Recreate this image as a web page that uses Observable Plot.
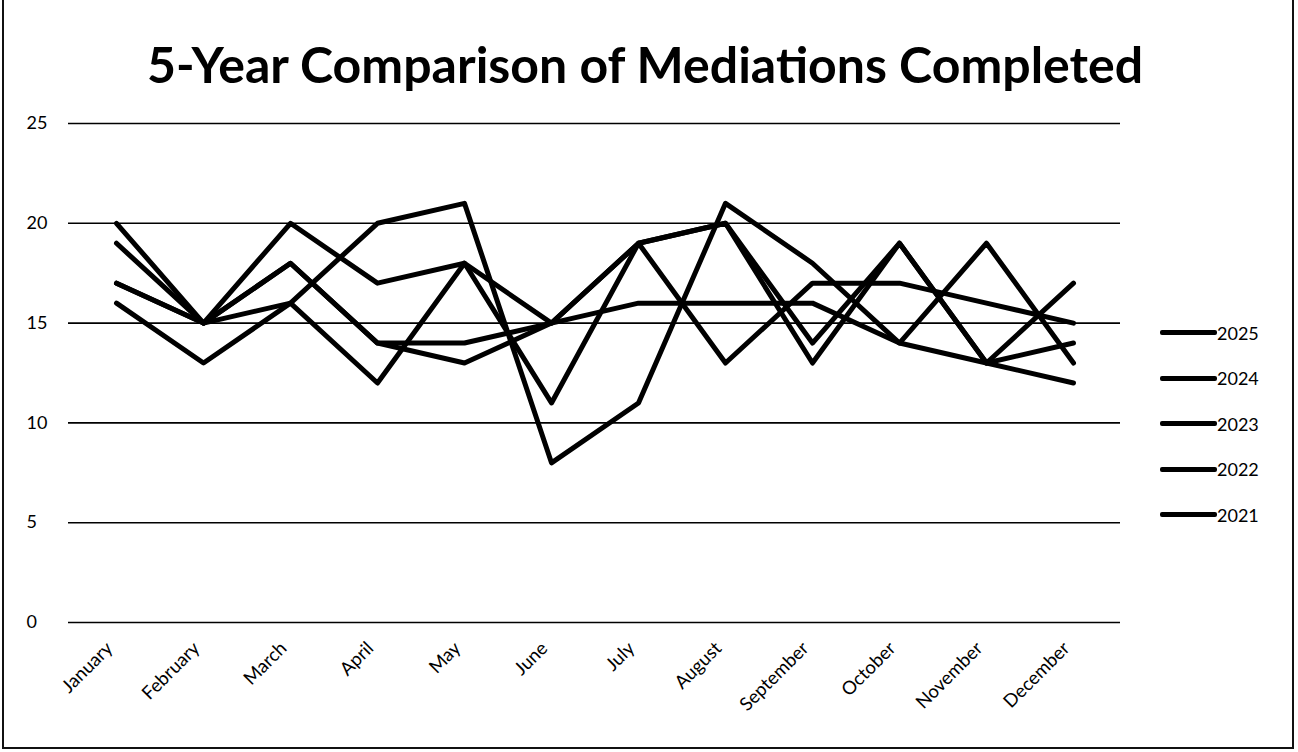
<!DOCTYPE html>
<html>
<head>
<meta charset="utf-8">
<script src="https://cdn.jsdelivr.net/npm/d3@7"></script>
<script src="https://cdn.jsdelivr.net/npm/@observablehq/plot@0.6"></script>
<style>
  html, body { margin: 0; padding: 0; background: #fff; }
  #wrap { position: relative; width: 1298px; height: 752px; overflow: hidden; font-family: Lato, "Open Sans", sans-serif; }
  #frame { position: absolute; left: 2px; top: -4px; width: 1292px; height: 753px; border: 2px solid #111; box-sizing: border-box; pointer-events: none; }
  #title { position: absolute; left: -4px; width: 1298px; top: 34px; text-align: center; font-size: 50px; font-weight: 700; color: #000; }
  #chart { position: absolute; left: 0; top: 0; }
  #legend { position: absolute; left: 1160px; top: 310px; }
  .li { display: flex; align-items: center; height: 45.5px; font-size: 18px; color: #000; }
  .sw { width: 57px; height: 5px; background: #000; border-radius: 2px; }
</style>
</head>
<body>
<div id="wrap">
  <div id="chart"></div>
  <div id="title">5-Year Comparison of Mediations Completed</div>
  <div id="legend"></div>
  <div id="frame"></div>
</div>
<script>
const months = ["January","February","March","April","May","June","July","August","September","October","November","December"];
const years = ["2025","2024","2023","2022","2021"];
const v2025 = [20, 15, 20, 17, 18, 15, 19, 20, 14, 19, 13, 17];
const v2024 = [19, 15, 18, 14, 14, 15, 19, 20, 13, 19, 13, 14];
const v2023 = [17, 15, 18, 14, 13, 15, 16, 16, 16, 14, 19, 13];
const v2022 = [16, 13, 16, 20, 21, 8, 11, 21, 18, 14, 13, 12];
const v2021 = [17, 15, 16, 12, 18, 11, 19, 13, 17, 17, 16, 15];
const yTicks = [0, 5, 10, 15, 20, 25];

const seriesValues = [v2025, v2024, v2023, v2022, v2021];
const rows = [];
years.forEach((yr, i) => months.forEach((m, j) => rows.push({year: yr, month: m, value: seriesValues[i][j]})));

const chart = Plot.plot({
  width: 1298,
  height: 752,
  marginTop: 123,
  marginBottom: 130,
  marginLeft: 68,
  marginRight: 178,
  style: {fontFamily: "Lato, 'Open Sans', sans-serif", color: "#000", background: "transparent"},
  x: {type: "point", domain: months, padding: 0.5},
  y: {domain: [0, 25]},
  marks: [
    Plot.ruleY(yTicks, {stroke: "#000", strokeWidth: 1.6}),
    Plot.axisY(yTicks, {tickSize: 0, textAnchor: "start", dx: -33, fontSize: 18, label: null}),
    Plot.axisX({tickSize: 0, tickRotate: -45, fontSize: 18.5, label: null, dy: 11, dx: -7}),
    Plot.line(rows, {x: "month", y: "value", z: "year", stroke: "#000", strokeWidth: 5, strokeLinejoin: "round", strokeLinecap: "round"})
  ]
});
document.getElementById("chart").appendChild(chart);

const legend = document.getElementById("legend");
years.forEach(yr => {
  const d = document.createElement("div");
  d.className = "li";
  const s = document.createElement("span");
  s.className = "sw";
  const t = document.createElement("span");
  t.textContent = yr;
  d.appendChild(s); d.appendChild(t);
  legend.appendChild(d);
});
</script>
</body>
</html>
